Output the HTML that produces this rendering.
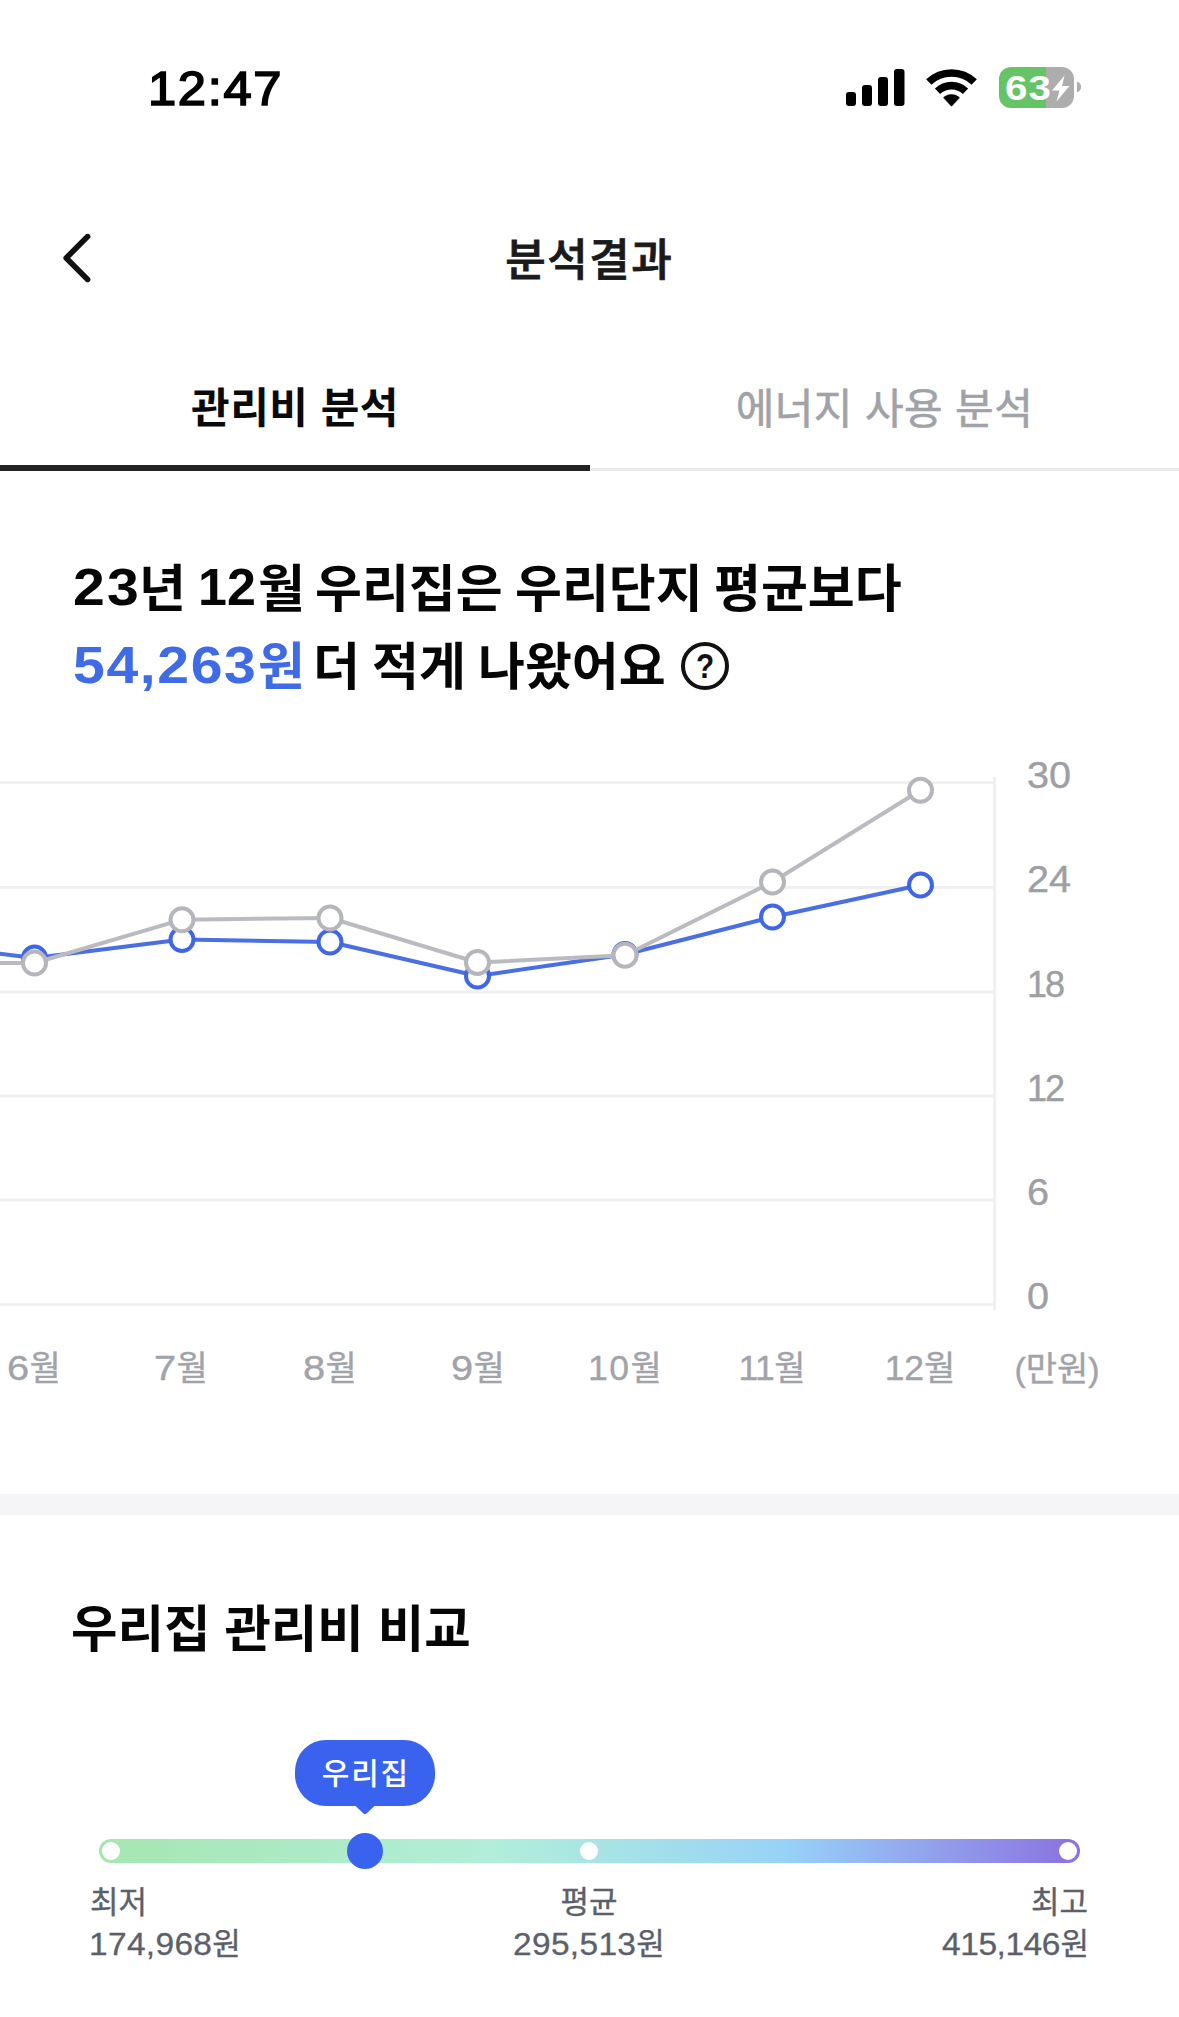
<!DOCTYPE html>
<html lang="ko">
<head>
<meta charset="utf-8">
<meta name="viewport" content="width=1179">
<title>분석결과</title>
<style>
*{box-sizing:border-box;margin:0;padding:0}
html,body{width:1179px;height:2017px;background:#fff;overflow:hidden}
body{position:relative;font-family:"Liberation Sans","Noto Sans CJK KR",sans-serif;color:#111;-webkit-font-smoothing:antialiased}
.abs{position:absolute;white-space:nowrap;line-height:1}
svg{position:absolute;left:0;top:0;overflow:visible}
#time{left:148px;top:64.5px;font-size:48px;font-weight:400;color:#000;letter-spacing:1.6px;-webkit-text-stroke:1.7px #000;transform:scaleX(1.055);transform-origin:0 50%}
#batt{left:999px;top:67px;width:75px;height:41px;border-radius:12px;background:linear-gradient(90deg,#65c466 0,#65c466 47px,#adadad 47px,#adadad 100%)}
#batt span{position:absolute;left:6px;top:3px;font-size:35px;font-weight:700;color:#fff;line-height:1;letter-spacing:1px;transform:scaleX(1.15);transform-origin:0 50%}
#title{left:-1px;width:1179px;text-align:center;top:239px;font-size:44px;font-weight:500;color:#1a1a1a;letter-spacing:1.5px;text-indent:1.5px;-webkit-text-stroke:.8px #1a1a1a}
#tab1{left:0;width:590px;text-align:center;top:388px;font-size:42px;font-weight:700;color:#0a0a0a;letter-spacing:.5px}
#tab2{left:590px;width:589px;text-align:center;top:389px;font-size:42px;font-weight:400;color:#a0a2a8;letter-spacing:.4px;-webkit-text-stroke:.6px #a0a2a8}
#tabline{left:0;top:468px;width:1179px;height:3px;background:#e9e9eb}
#tabind{left:0;top:465px;width:590px;height:6px;background:#222}
.hl{left:0;width:1179px;height:70px;font-size:51px;font-weight:700;color:#060606}
#h1a{top:564px}
#h1b{top:642px}
.w{position:absolute;top:0;line-height:1;white-space:nowrap}
.w.n{font-size:52px;letter-spacing:2px;transform:scaleX(1.1);transform-origin:0 50%;top:-3px}
#w12{letter-spacing:0;transform:none}
#w54{letter-spacing:1.45px}
.bl{color:#3f6be6}
#qmark{left:681px;top:642px;width:48px;height:48px;border:4px solid #111;border-radius:50%;text-align:center;font-size:35px;font-weight:700;line-height:40px;color:#111}
#qmark span{display:block;transform:scaleX(.85);position:relative;top:0px}
.yl{left:1027px;font-size:36px;color:#9d9fa5;font-weight:400;-webkit-text-stroke:.4px #9d9fa5;transform:scaleX(1.1);transform-origin:0 50%}
#y18,#y12{transform:none;left:1027px;letter-spacing:-2px}
.xl{width:160px;text-align:center;top:1351px;font-size:34px;color:#a1a3a9;font-weight:400;-webkit-text-stroke:.4px #a1a3a9}
.xl i{font-style:normal;font-size:35.5px;letter-spacing:0;display:inline-block;transform:scaleX(1.12);transform-origin:0 50%;margin-right:2.5px}
#x4 i{letter-spacing:1.5px;transform:none;margin-right:0}#x5 i{letter-spacing:-.5px;transform:none;margin-right:0}#x6 i{letter-spacing:-.2px;transform:none;margin-right:0}#x7{top:1352px}
#divider{left:0;top:1494px;width:1179px;height:21px;background:#f5f5f7}
#h2{left:71px;top:1605px;font-size:50.5px;letter-spacing:0;font-weight:700;color:#060606}
#bubble{left:295px;top:1740px;width:140px;height:66px;border-radius:31px;background:#3963ef;color:#fff;text-align:center;font-size:30px;font-weight:500;line-height:68px;letter-spacing:1.8px;text-indent:1.8px}
#track{left:99px;top:1839px;width:981px;height:24px;border-radius:12px;background:linear-gradient(90deg,#a5e6b0 0%,#b2eed9 40%,#98d2f8 70%,#8b70e0 100%)}
.dot{width:18px;height:18px;border-radius:50%;background:#fff;top:1842px}
#knob{left:347px;top:1833px;width:36px;height:36px;border-radius:50%;background:#3963ef}
.lab{font-size:31px;color:#5b606b;line-height:42px;font-weight:400;-webkit-text-stroke:.35px #5b606b}
.lab i{font-style:normal;font-size:31px;letter-spacing:.3px;display:inline-block;transform:scaleX(1.08);transform-origin:0 50%;margin-right:9px;-webkit-text-stroke:.3px #5b606b}
#l3b i{letter-spacing:-.4px}
</style>
</head>
<body>
<!-- status bar -->
<div id="time" class="abs">12:47</div>
<svg width="1179" height="140" viewBox="0 0 1179 140">
  <rect x="846" y="92" width="10" height="14" rx="3" fill="#000"/>
  <rect x="862" y="85" width="10" height="21" rx="3" fill="#000"/>
  <rect x="878" y="77" width="10" height="29" rx="3" fill="#000"/>
  <rect x="894" y="69" width="10.5" height="37" rx="3" fill="#000"/>
  <g fill="none" stroke="#000" stroke-width="7.6">
    <path d="M928.78 82.06 A33 33 0 0 1 974.22 82.06"/>
    <path d="M937.49 91.24 A20.35 20.35 0 0 1 965.51 91.24"/>
  </g>
  <path d="M951.5 106.2 L943.5 97.7 A11.6 11.6 0 0 1 959.5 97.7 Z" fill="#000" stroke="#000" stroke-width=".6" stroke-linejoin="round"/>
  <path d="M1077 81.5 C1082.5 83.5 1082.5 90.5 1077 92.5 Z" fill="#adadad"/>
</svg>
<div id="batt" class="abs"><span>63</span></div>
<svg width="1179" height="140" viewBox="0 0 1179 140">
  <path d="M1064.5 75.5 L1052 90.5 L1059.5 90.5 L1056.5 101.5 L1069.5 86 L1062 86 Z" fill="#fff"/>
</svg>

<!-- nav -->
<svg width="1179" height="320" viewBox="0 0 1179 320">
  <path d="M87.6 236.6 L66.2 258 L87.6 279.4" fill="none" stroke="#111" stroke-width="5.6" stroke-linecap="round" stroke-linejoin="round"/>
</svg>
<div id="title" class="abs">분석결과</div>

<!-- tabs -->
<div id="tab1" class="abs">관리비 분석</div>
<div id="tab2" class="abs">에너지 사용 분석</div>
<div id="tabline" class="abs"></div>
<div id="tabind" class="abs"></div>

<!-- headline -->
<div id="h1a" class="abs hl"><span id="w23" class="w n" style="left:73px">23</span><span id="wny" class="w" style="left:139px">년</span> <span id="w12" class="w n" style="left:198px">12</span><span id="wwol" class="w" style="left:258px">월</span> <span id="wa" class="w" style="left:315px">우리집은</span> <span id="wb" class="w" style="left:515px">우리단지</span> <span id="wc" class="w" style="left:714px">평균보다</span></div>
<div id="h1b" class="abs hl"><span id="w54" class="w n bl" style="left:73px">54,263</span><span id="wwon" class="w bl" style="left:258px">원</span> <span id="wd" class="w" style="left:313px">더</span> <span id="we" class="w" style="left:372px">적게</span> <span id="wf" class="w" style="left:478px">나왔어요</span></div>
<div id="qmark" class="abs"><span>?</span></div>

<!-- chart -->
<svg width="1179" height="1420" viewBox="0 0 1179 1420">
  <g stroke="#f0f0f2" stroke-width="2.8" fill="none">
    <path d="M0 782.7H995M0 887.5H995M0 992H995M0 1096H995M0 1200H995M0 1304.3H995"/>
    <path d="M994.6 777V1310" stroke-width="3.2"/>
  </g>
  <g fill="none" stroke="#4a6fe3" stroke-width="4" stroke-linejoin="round">
    <path d="M-10 952.5 L34.5 958 L182 939.5 L330 942 L477.5 976 L625 954.5 L772.5 917 L920.5 885"/>
  </g>
  <g fill="#fff" stroke="#3f66e6" stroke-width="4">
    <circle cx="34.5" cy="958" r="11.5"/><circle cx="182" cy="939.5" r="11.5"/><circle cx="330" cy="942" r="11.5"/>
    <circle cx="477.5" cy="976" r="11.5"/><circle cx="625" cy="954.5" r="11.5"/><circle cx="772.5" cy="917" r="11.5"/>
    <circle cx="920.5" cy="885" r="11.5"/>
  </g>
  <g fill="none" stroke="#b9bbc0" stroke-width="4" stroke-linejoin="round">
    <path d="M-10 963 L34.5 963 L182 919.7 L330 918 L477.5 962.5 L625 955.3 L772.5 882 L920.5 790.3"/>
  </g>
  <g fill="#fff" stroke="#b4b6bc" stroke-width="4">
    <circle cx="34.5" cy="963" r="11.5"/><circle cx="182" cy="919.7" r="11.5"/><circle cx="330" cy="918" r="11.5"/>
    <circle cx="477.5" cy="962.5" r="11.5"/><circle cx="625" cy="955.3" r="11.5"/><circle cx="772.5" cy="882" r="11.5"/>
    <circle cx="920.5" cy="790.3" r="11.5"/>
  </g>
</svg>
<div id="y30" class="abs yl" style="top:758px">30</div>
<div id="y24" class="abs yl" style="top:862px">24</div>
<div id="y18" class="abs yl" style="top:967px">18</div>
<div id="y12" class="abs yl" style="top:1071px">12</div>
<div id="y6" class="abs yl" style="top:1175px">6</div>
<div id="y0" class="abs yl" style="top:1279px">0</div>
<div id="x0" class="abs xl" style="left:-46px"><i>6</i>월</div>
<div id="x1" class="abs xl" style="left:101px"><i>7</i>월</div>
<div id="x2" class="abs xl" style="left:250px"><i>8</i>월</div>
<div id="x3" class="abs xl" style="left:398px"><i>9</i>월</div>
<div id="x4" class="abs xl" style="left:545px"><i>10</i>월</div>
<div id="x5" class="abs xl" style="left:692px"><i>11</i>월</div>
<div id="x6" class="abs xl" style="left:840px"><i>12</i>월</div>
<div id="x7" class="abs xl" style="left:977px">(만원)</div>

<div id="divider" class="abs"></div>

<!-- compare -->
<div id="h2" class="abs">우리집 관리비 비교</div>
<div id="bubble" class="abs">우리집</div>
<svg width="1179" height="2017" viewBox="0 0 1179 2017">
  <path d="M355 1805.5 H375 L366.5 1813.5 Q365 1814.8 363.5 1813.5 Z" fill="#3963ef"/>
</svg>
<div id="track" class="abs"></div>
<div class="abs dot" style="left:102px"></div>
<div class="abs dot" style="left:580px"></div>
<div class="abs dot" style="left:1059px"></div>
<div id="knob" class="abs"></div>
<div id="l1a" class="abs lab" style="left:90px;top:1882px">최저</div>
<div id="l1b" class="abs lab" style="left:89px;top:1924px"><i>174,968</i>원</div>
<div id="l2a" class="abs lab" style="left:389px;width:400px;top:1882px;text-align:center">평균</div>
<div id="l2b" class="abs lab" style="left:389px;width:400px;top:1924px;text-align:center"><i>295,513</i>원</div>
<div id="l3a" class="abs lab" style="left:687px;width:401px;top:1882px;text-align:right">최고</div>
<div id="l3b" class="abs lab" style="left:687px;width:402px;top:1924px;text-align:right"><i>415,146</i>원</div>
</body>
</html>
